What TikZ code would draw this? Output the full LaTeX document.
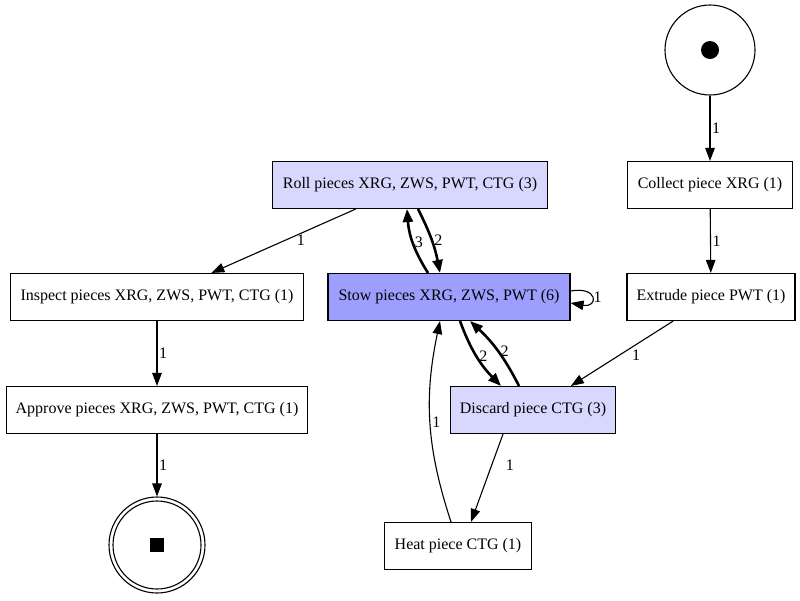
\documentclass[tikz,border=0pt]{standalone}
\usepackage{fontspec}
\setmainfont{Liberation Serif}
\usetikzlibrary{arrows.meta,positioning,calc}
\definecolor{LightLilac}{RGB}{216,216,255}
\definecolor{DeepLilac}{RGB}{158,158,255}

\begin{document}
\begin{tikzpicture}[x=1pt,y=-1pt,line width=1.1pt,
  font=\fontsize{16}{18}\selectfont,
  trans/.style={draw,rectangle,minimum height=47pt,inner sep=0pt},
  place/.style={draw,circle,inner sep=0pt},
  arc/.style={-{Triangle[length=13pt,width=9.5pt]}},
  heavy/.style={line width=2.6pt,-{Triangle[length=13pt,width=10pt]}},
  lab/.style={inner sep=1.5pt}]
  \useasboundingbox (0,0) rectangle (800,600);

  \node[place,minimum size=90pt] (start) at (710,50) {};
  \fill (start) circle (9);
  \node[trans,minimum width=165pt] (collect) at (710,185) {Collect piece XRG (1)};
  \node[trans,minimum width=168pt] (extrude) at (711,297) {Extrude piece PWT (1)};
  \node[trans,minimum width=275pt,fill=LightLilac] (roll) at (410,185) {Roll pieces XRG, ZWS, PWT, CTG (3)};
  \node[trans,minimum width=242pt,fill=DeepLilac] (stow) at (449,297) {Stow pieces XRG, ZWS, PWT (6)};
  \node[trans,minimum width=293pt] (inspect) at (157,297) {Inspect pieces XRG, ZWS, PWT, CTG (1)};
  \node[trans,minimum width=301pt] (approve) at (157,410) {Approve pieces XRG, ZWS, PWT, CTG (1)};
  \node[trans,minimum width=165pt,fill=LightLilac] (discard) at (533,410) {Discard piece CTG (3)};
  \node[trans,minimum width=147pt] (heat) at (458,546) {Heat piece CTG (1)};
  \node[place,minimum size=96pt] (end) at (157,545) {};
  \draw (end) circle (44);
  \fill ([shift={(-7pt,-7pt)}]end.center) rectangle ([shift={(7pt,7pt)}]end.center);

  \draw[arc] (start) -- node[lab,right] {1} (collect);
  \draw[arc] (collect) -- node[lab,right] {1} (extrude);
  \draw[arc] (extrude) -- node[lab,pos=.42,below right] {1} (discard);
  \draw[arc] (roll) -- node[lab,pos=.38,below] {1} (inspect);
  \draw[arc] (inspect) -- node[lab,right] {1} (approve);
  \draw[arc] (approve) -- node[lab,right] {1} (end);
  \draw[heavy] ([xshift=8pt]roll.south) to[bend left=8] node[lab,right] {2} ([xshift=-9pt]stow.north);
  \draw[heavy] ([xshift=-21pt]stow.north) to[bend left=14] node[lab,right,inner sep=0.5pt] {3} ([xshift=-3pt]roll.south);
  \draw[heavy] ([xshift=11pt]stow.south) to[bend right=12] node[lab,right] {2} ([xshift=-32pt]discard.north);
  \draw[heavy] ([xshift=-14pt]discard.north) to[bend right=10] node[lab,right] {2} ([xshift=21pt]stow.south);
  \draw[arc] ([yshift=6pt]stow.east) .. controls +(28pt,5pt) and +(28pt,-5pt) .. ([yshift=-6pt]stow.east)
    node[lab,pos=.5,right] {1};
  \draw[arc] ([xshift=-30pt]discard.south) -- node[lab,pos=.35,right=12pt] {1} ([xshift=13pt]heat.north);
  \draw[arc] ([xshift=-7pt]heat.north) to[bend left=15] node[lab,right] {1} ([xshift=-9pt]stow.south);
\end{tikzpicture}
\end{document}
